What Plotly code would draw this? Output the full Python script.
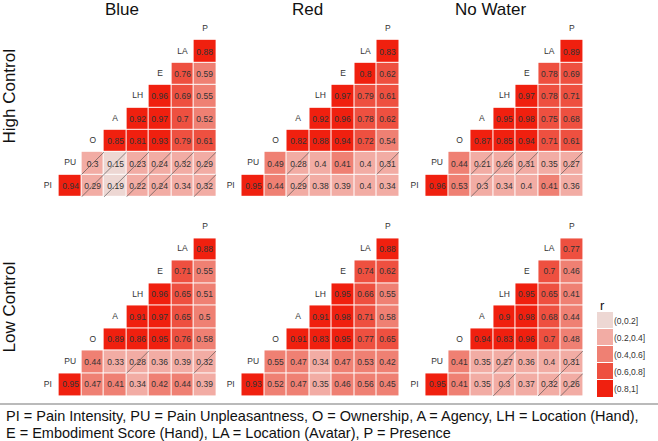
import plotly.graph_objects as go
import numpy as np

W, H = 658, 441

variables = ["PI", "PU", "O", "A", "LH", "E", "LA", "P"]
conditions = ["Blue", "Red", "No Water"]
controls = ["High Control", "Low Control"]
bin_labels = ["(0,0.2]", "(0.2,0.4]", "(0.4,0.6]", "(0.6,0.8]", "(0.8,1]"]
bin_edges = [0.0, 0.2, 0.4, 0.6, 0.8, 1.0]
bin_colors = ["#EDD7D3", "#F2ACA4", "#EF8073", "#EE5040", "#F0200F"]
caption_lines = [
    "PI = Pain Intensity, PU = Pain Unpleasantness, O = Ownership, A = Agency, LH = Location (Hand),",
    "E = Embodiment Score (Hand), LA = Location (Avatar), P = Presence",
]

# lower-triangle rows: row i holds r(var_i, var_j) for j = i+1 .. 7
blue_high = [
    [0.94, 0.29, 0.19, 0.22, 0.24, 0.34, 0.32],
    [0.30, 0.15, 0.23, 0.24, 0.32, 0.29],
    [0.85, 0.81, 0.93, 0.79, 0.61],
    [0.92, 0.97, 0.70, 0.52],
    [0.96, 0.69, 0.55],
    [0.76, 0.59],
    [0.88],
]
red_high = [
    [0.95, 0.44, 0.29, 0.38, 0.39, 0.40, 0.34],
    [0.49, 0.28, 0.40, 0.41, 0.40, 0.31],
    [0.82, 0.88, 0.94, 0.72, 0.54],
    [0.92, 0.96, 0.78, 0.62],
    [0.97, 0.79, 0.61],
    [0.802, 0.62],
    [0.83],
]
nowater_high = [
    [0.96, 0.53, 0.30, 0.34, 0.40, 0.41, 0.36],
    [0.44, 0.21, 0.26, 0.31, 0.35, 0.27],
    [0.87, 0.85, 0.94, 0.71, 0.61],
    [0.95, 0.98, 0.75, 0.68],
    [0.97, 0.78, 0.71],
    [0.78, 0.69],
    [0.89],
]
blue_low = [
    [0.95, 0.47, 0.41, 0.34, 0.42, 0.44, 0.39],
    [0.44, 0.33, 0.28, 0.36, 0.39, 0.32],
    [0.89, 0.86, 0.95, 0.76, 0.58],
    [0.91, 0.97, 0.65, 0.50],
    [0.96, 0.65, 0.51],
    [0.71, 0.55],
    [0.88],
]
red_low = [
    [0.93, 0.52, 0.47, 0.35, 0.46, 0.56, 0.45],
    [0.55, 0.47, 0.34, 0.47, 0.53, 0.42],
    [0.91, 0.83, 0.95, 0.77, 0.65],
    [0.91, 0.98, 0.71, 0.58],
    [0.95, 0.66, 0.55],
    [0.74, 0.62],
    [0.88],
]
nowater_low = [
    [0.95, 0.41, 0.35, 0.30, 0.37, 0.32, 0.26],
    [0.41, 0.35, 0.27, 0.36, 0.40, 0.31],
    [0.94, 0.83, 0.96, 0.70, 0.48],
    [0.90, 0.98, 0.68, 0.44],
    [0.95, 0.65, 0.41],
    [0.70, 0.46],
    [0.77],
]

# non-significant pairs (crossed out)
blue_high_ns = [("PI", "O"), ("PI", "A"), ("PI", "LH"), ("PI", "E"), ("PI", "P"),
                ("PU", "O"), ("PU", "A"), ("PU", "LH"), ("PU", "E"), ("PU", "LA"), ("PU", "P")]
red_high_ns = [("PI", "A"), ("PU", "A"), ("PU", "P")]
nowater_high_ns = [("PI", "A"), ("PU", "A"), ("PU", "LH"), ("PU", "E"), ("PU", "P")]
blue_low_ns = [("PU", "LH"), ("PU", "P")]
red_low_ns = []
nowater_low_ns = [("PI", "LH"), ("PI", "LA"), ("PI", "P"), ("PU", "LH"), ("PU", "P")]

panels = [
    (blue_high, blue_high_ns), (red_high, red_high_ns), (nowater_high, nowater_high_ns),
    (blue_low, blue_low_ns), (red_low, red_low_ns), (nowater_low, nowater_low_ns),
]

FONT = "Liberation Sans, Arial, sans-serif"
TXT = "#333333"

# pixel layout
col_left = [36.6, 219.5, 403.4]
panel_w = 179.6
row_top = [17.8, 215.4]
panel_h = [179.1, 180.6]


def px_x(p):
    return p / W


def px_y(p):
    return 1 - p / H


cs = []
for b, c in enumerate(bin_colors):
    cs.append([b / 5, c])
    cs.append([(b + 1) / 5, c])

fig = go.Figure()
shapes = []
layout_axes = {}

for k, (vals, ns) in enumerate(panels):
    r, c = divmod(k, 3)
    n = k + 1
    xa, ya = ("x" if n == 1 else f"x{n}"), ("y" if n == 1 else f"y{n}")
    z = [[None] * 8 for _ in range(8)]
    txt = [[""] * 8 for _ in range(8)]
    for i, row in enumerate(vals):
        for m, v in enumerate(row):
            j = i + 1 + m
            z[i][j] = int(np.digitize(v, bin_edges[1:-1], right=True))
            txt[i][j] = f"{round(v, 2):g}"
    fig.add_trace(go.Heatmap(
        z=z, x=list(range(8)), y=list(range(8)), text=txt, texttemplate="%{text}",
        textfont=dict(size=8.5, color=TXT, family=FONT),
        colorscale=cs, zmin=-0.5, zmax=4.5, showscale=False, xgap=1, ygap=1,
        hoverinfo="text", xaxis=xa, yaxis=ya))
    fig.add_trace(go.Scatter(
        x=list(range(8)), y=list(range(8)), text=variables, mode="text",
        textfont=dict(size=8.5, color=TXT, family=FONT), hoverinfo="skip",
        showlegend=False, xaxis=xa, yaxis=ya))
    for a, b in ns:
        i, j = variables.index(a), variables.index(b)
        shapes.append(dict(type="line", xref=xa, yref=ya, x0=j - 0.5, y0=i - 0.5,
                           x1=j + 0.5, y1=i + 0.5,
                           line=dict(color="rgba(70,70,70,0.75)", width=0.8)))
    x0 = col_left[c]
    y0 = row_top[r]
    key = "" if n == 1 else str(n)
    layout_axes[f"xaxis{key}"] = dict(domain=[px_x(x0), px_x(x0 + panel_w)], range=[-0.5, 7.5],
                                      visible=False, fixedrange=True, anchor=ya)
    layout_axes[f"yaxis{key}"] = dict(domain=[px_y(y0 + panel_h[r]), px_y(y0)], range=[-0.5, 7.5],
                                      visible=False, fixedrange=True, anchor=xa)

# legend as a small heatmap
fig.add_trace(go.Heatmap(
    z=[[b] for b in range(5)], x=[0], y=list(range(5)), colorscale=cs,
    zmin=-0.5, zmax=4.5, showscale=False, ygap=1, hoverinfo="skip",
    xaxis="x7", yaxis="y7"))
layout_axes["xaxis7"] = dict(domain=[px_x(597), px_x(613)], range=[-0.5, 0.5], visible=False,
                             fixedrange=True, anchor="y7")
layout_axes["yaxis7"] = dict(domain=[px_y(397.5), px_y(312)], range=[4.5, -0.5], side="right",
                             tickvals=list(range(5)), ticktext=bin_labels, ticks="",
                             showgrid=False, zeroline=False, showline=False, fixedrange=True,
                             tickfont=dict(size=8.5, color=TXT, family=FONT), anchor="x7")

annotations = []
for c, (name, xc) in enumerate(zip(conditions, [122, 307, 491])):
    annotations.append(dict(text=name, x=px_x(xc), y=px_y(9), xref="paper", yref="paper",
                            showarrow=False, xanchor="center", yanchor="middle",
                            font=dict(size=17, color="#111", family=FONT)))
for name, yc in zip(controls, [96.5, 307.5]):
    annotations.append(dict(text=name, x=px_x(9), y=px_y(yc), xref="paper", yref="paper",
                            showarrow=False, xanchor="center", yanchor="middle", textangle=-90,
                            font=dict(size=17, color="#111", family=FONT)))
annotations.append(dict(text="r", x=px_x(598), y=px_y(305), xref="paper", yref="paper",
                        showarrow=False, xanchor="left", yanchor="middle",
                        font=dict(size=13, color="#111", family=FONT)))
for line, yc in zip(caption_lines, [415.5, 432.5]):
    annotations.append(dict(text=line, x=px_x(4), y=px_y(yc), xref="paper", yref="paper",
                            showarrow=False, xanchor="left", yanchor="middle", align="left",
                            font=dict(size=14.5, color="#111", family=FONT)))

shapes.append(dict(type="line", xref="paper", yref="paper", x0=0, x1=1, y0=px_y(404), y1=px_y(404),
                   line=dict(color="#777777", width=1.2)))

fig.update_layout(width=W, height=H, margin=dict(l=0, r=0, t=0, b=0),
                  paper_bgcolor="white", plot_bgcolor="rgba(0,0,0,0)",
                  showlegend=False, shapes=shapes, annotations=annotations,
                  font=dict(family=FONT), **layout_axes)

fig.write_html("out.html", config={"displayModeBar": False},
               post_script="document.body.style.margin='0px';")
